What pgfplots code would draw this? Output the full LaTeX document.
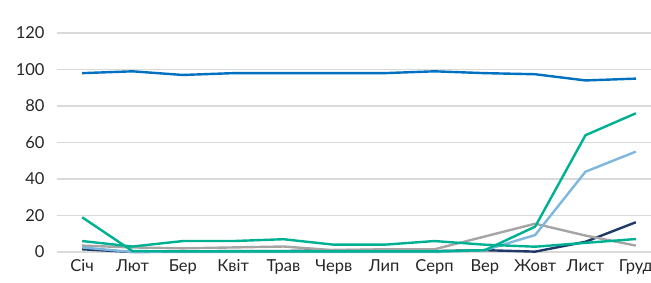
\documentclass[border=0pt]{standalone}
\usepackage{fontspec}
\setmainfont{Lato}
\usepackage{pgfplots}
\pgfplotsset{compat=1.18}
\definecolor{cblue}{HTML}{0070C0}
\definecolor{cteal}{HTML}{00B092}
\definecolor{clblue}{HTML}{7DB7E0}
\definecolor{cgray}{HTML}{A5A5A5}
\definecolor{cnavy}{HTML}{1F3A68}
\definecolor{cgrid}{HTML}{D9D9D9}
\begin{document}
\begin{tikzpicture}
\useasboundingbox (0,0) rectangle (651pt,283pt);
\begin{axis}[
  at={(57pt,31pt)}, anchor=south west,
  scale only axis, width=604pt, height=219pt,
  xmin=-0.5, xmax=11.5, ymin=0, ymax=120,
  ytick={0,20,...,120},
  xtick={0,...,11},
  xticklabels={Січ,Лют,Бер,Квіт,Трав,Черв,Лип,Серп,Вер,Жовт,Лист,Груд},
  axis line style={draw=none},
  major tick length=0pt,
  ymajorgrids, grid style={cgrid, line width=1.3pt},
  tick label style={font=\fontsize{16.5}{19}\selectfont, text=black!85},
  /pgf/number format/assume math mode=true,
  yticklabel style={xshift=-9pt},
  xticklabel style={yshift=-4pt},
  clip=false,
  every axis plot/.append style={line width=2.4pt, no marks, line join=round},
]
\addplot[cnavy] coordinates {(0,1.5)(1,0)(2,0.3)(3,0.5)(4,0.5)(5,1)(6,1)(7,0.5)(8,1)(9,0.2)(10,5.6)(11,16.3)};
\addplot[cgray] coordinates {(0,3.5)(1,2.5)(2,2)(3,2.5)(4,3)(5,1)(6,1.5)(7,1.5)(8,8.5)(9,15.5)(10,9)(11,3.5)};
\addplot[clblue] coordinates {(0,2.5)(1,0)(2,0)(3,0)(4,0)(5,0)(6,0)(7,0)(8,1)(9,9.3)(10,44)(11,55)};
\addplot[cteal] coordinates {(0,6)(1,3)(2,6)(3,6)(4,7)(5,4)(6,4)(7,6)(8,4)(9,2.9)(10,5)(11,7.1)};
\addplot[cteal] coordinates {(0,19)(1,0.5)(2,0.3)(3,0.3)(4,0.3)(5,0.3)(6,0.3)(7,0.3)(8,1)(9,13.9)(10,64)(11,76)};
\addplot[cblue] coordinates {(0,98)(1,99)(2,97)(3,98)(4,98)(5,98)(6,98)(7,99)(8,98)(9,97.4)(10,94)(11,95)};
\end{axis}
\end{tikzpicture}
\end{document}
